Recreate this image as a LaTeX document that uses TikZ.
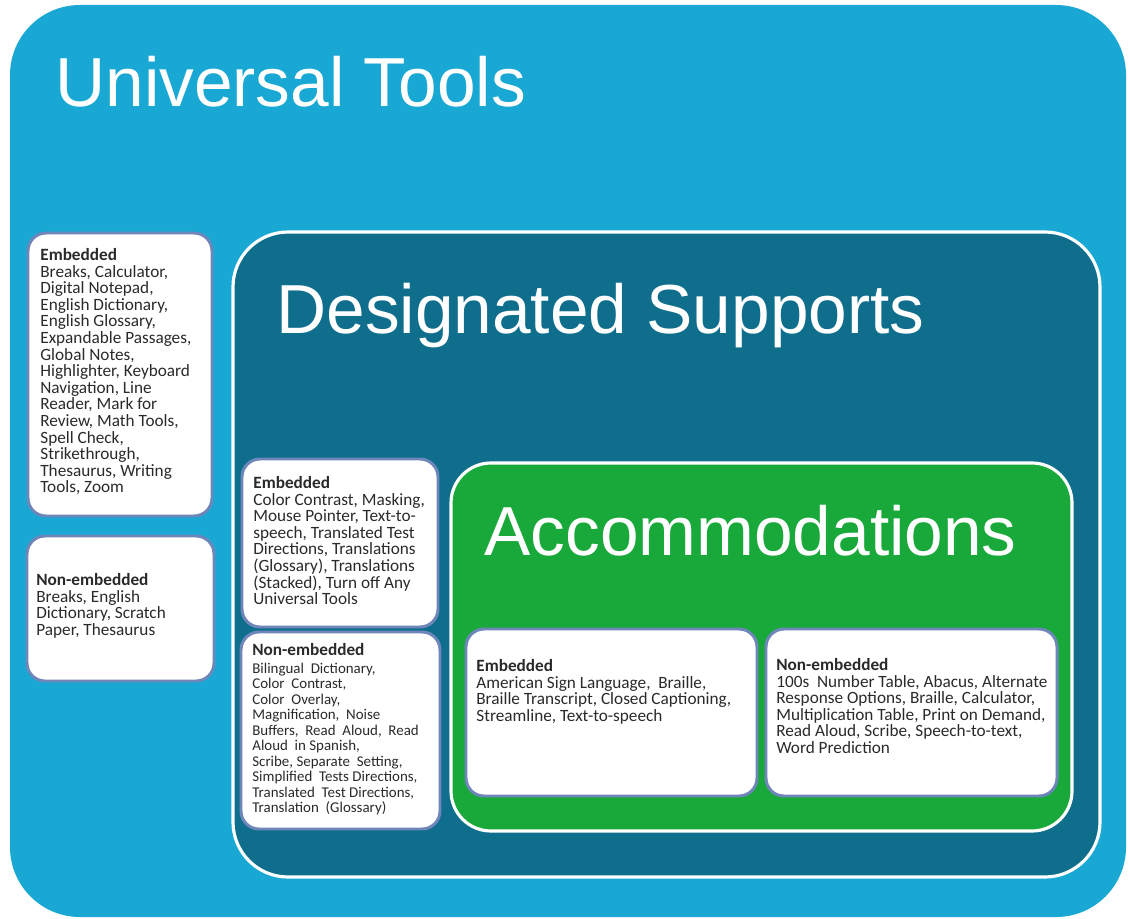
\documentclass[tikz,border=0pt]{standalone}
\usepackage{fontspec}
\newfontfamily\titlefont{Liberation Sans}
\newfontfamily\bodyfont{Carlito}
\definecolor{utblue}{HTML}{18A8D3}
\definecolor{dsteal}{HTML}{0F6E8C}
\definecolor{accgreen}{HTML}{19A83A}
\definecolor{boxline}{HTML}{6F86BA}
\definecolor{bodytext}{HTML}{2A2A2A}
\tikzset{
  panel/.style={draw=white, line width=1.8pt},
  itembox/.style={draw=boxline, fill=white, line width=1.7pt, rounded corners=0.36cm},
  heading/.style={anchor=base west, inner sep=0pt, text=white,
    font=\titlefont\fontsize{39.5}{42}\selectfont},
  itemtext/.style={anchor=north west, inner sep=0pt, align=left, text=bodytext,
    font=\bodyfont\fontsize{9.8}{9.45}\selectfont},
  smalltext/.style={itemtext, font=\bodyfont\fontsize{8.5}{8.8}\selectfont},
}
\begin{document}
\begin{tikzpicture}[x=0.02cm, y=-0.02cm]
    \useasboundingbox (0,0) rectangle (1130,919);
    % Universal Tools
    \fill[utblue, rounded corners=1.4cm] (10,5) rectangle (1126,917);
    \node[heading] (utTitle) at (55,107) {Universal Tools};
    \draw[itembox] (28,233) rectangle (212,516);
    \node[itemtext] (utEmb) at (40,248) {{\bfseries Embedded}\\Breaks, Calculator,\\Digital Notepad,\\English Dictionary,\\English Glossary,\\Expandable Passages,\\Global Notes,\\Highlighter, Keyboard\\Navigation, Line\\Reader, Mark for\\Review, Math Tools,\\Spell Check,\\Strikethrough,\\Thesaurus, Writing\\Tools, Zoom};
    \draw[itembox] (27,536) rectangle (214,681);
    \node[itemtext] (utNon) at (36,573) {{\bfseries Non-embedded}\\Breaks, English\\Dictionary, Scratch\\Paper, Thesaurus};
    % Designated Supports
    \draw[panel, fill=dsteal, rounded corners=1.1cm] (233,232) rectangle (1100,877);
    \node[heading] (dsTitle) at (276,333) {Designated Supports};
    \draw[itembox] (242,459) rectangle (438,627);
    \node[itemtext] (dsEmb) at (253,476) {{\bfseries Embedded}\\Color Contrast, Masking,\\Mouse Pointer, Text-to-\\speech, Translated Test\\Directions, Translations\\(Glossary), Translations\\(Stacked), Turn off Any\\Universal Tools};
    \draw[itembox] (241,632) rectangle (440,829);
    \node[smalltext] (dsNon) at (252,643) {{\bfseries\fontsize{9.8}{9.45}\selectfont Non-embedded}\\[1.4pt]Bilingual~ Dictionary,\\Color~ Contrast,\\Color~ Overlay,\\Magnification,~ Noise\\Buffers,~ Read~ Aloud,~ Read\\Aloud~ in Spanish,\\Scribe, Separate~ Setting,\\Simplified~ Tests Directions,\\Translated~ Test Directions,\\Translation~ (Glossary)};
    % Accommodations
    \draw[panel, fill=accgreen, rounded corners=0.8cm] (451,463) rectangle (1072,831);
    \node[heading] (accTitle) at (484,555) {Accommodations};
    \draw[itembox] (466,629) rectangle (757,796);
    \node[itemtext] (accEmb) at (476,659) {{\bfseries Embedded}\\American Sign Language,~ Braille,\\Braille Transcript, Closed Captioning,\\Streamline, Text-to-speech};
    \draw[itembox] (766,629) rectangle (1057,796);
    \node[itemtext] (accNon) at (776,658) {{\bfseries Non-embedded}\\100s~ Number Table, Abacus, Alternate\\Response Options, Braille, Calculator,\\Multiplication Table, Print on Demand,\\Read Aloud, Scribe, Speech-to-text,\\Word Prediction};
\end{tikzpicture}
\end{document}
